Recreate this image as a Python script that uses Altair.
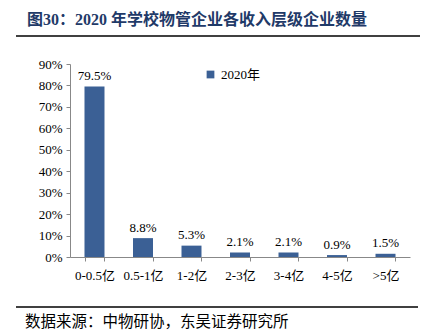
import altair as alt
import pandas as pd

categories = ["0-0.5亿", "0.5-1亿", "1-2亿", "2-3亿", "3-4亿", "4-5亿", ">5亿"]
values = [79.5, 8.8, 5.3, 2.1, 2.1, 0.9, 1.5]
series = "2020年"
y_ticks = [0, 10, 20, 30, 40, 50, 60, 70, 80, 90]
title_text = "图30：2020 年学校物管企业各收入层级企业数量"
source_text = "数据来源：中物研协，东吴证券研究所"

df = pd.DataFrame({"cat": categories, "val": [v / 100 for v in values], "s": series,
                   "lbl": [f"{v:.1f}%" for v in values]})

SERIF = "'Liberation Serif', 'Times New Roman', 'Noto Sans CJK SC', serif"
BAR = "#3B6095"

x = alt.X("cat:N", sort=categories, title=None,
          scale=alt.Scale(paddingInner=0.59, paddingOuter=0.3),
          axis=alt.Axis(labelAngle=0, tickBand="extent", labelPadding=8))
y = alt.Y("val:Q", title=None,
          scale=alt.Scale(domain=[0, 0.9], nice=False),
          axis=alt.Axis(values=[t / 100 for t in y_ticks], format=".0%", grid=False,
                        labelPadding=4))

base = alt.Chart(df).encode(x=x, y=y)

bars = base.mark_bar(size=20).encode(
    color=alt.Color("s:N", scale=alt.Scale(range=[BAR]), title=None,
                    legend=alt.Legend(orient="none", legendX=134, legendY=4,
                                      symbolType="square", symbolSize=60,
                                      labelFont=SERIF, labelFontSize=13, labelColor="#000",
                                      symbolStrokeWidth=0)))

labels = base.mark_text(dy=-10.5, font=SERIF, fontSize=13, color="#000").encode(text="lbl:N")

deco = pd.DataFrame({"t": [title_text]})
title = alt.Chart(deco).mark_text(align="left", baseline="middle", font=SERIF, fontSize=16,
                                  fontWeight="bold", color="#1F3A68", clip=False).encode(
    x=alt.value(-43), y=alt.value(-44), text="t:N")
src = alt.Chart(pd.DataFrame({"t": [source_text]})).mark_text(
    align="left", baseline="middle", font="'Noto Sans CJK SC'", fontSize=15.5, color="#000",
    clip=False).encode(
    x=alt.value(-45), y=alt.value(258), text="t:N")
line1 = alt.Chart(deco).mark_rule(color="#000", strokeWidth=1.5, clip=False).encode(
    x=alt.value(-54), x2=alt.value(350), y=alt.value(-28))
line2 = alt.Chart(deco).mark_rule(color="#000", strokeWidth=1.5, clip=False).encode(
    x=alt.value(-54), x2=alt.value(348), y=alt.value(243))

chart = alt.layer(bars, labels, title, src, line1, line2).properties(
    width=340, height=193,
    autosize=alt.AutoSizeParams(type="none"),
    padding={"left": 70, "top": 64, "right": 18, "bottom": 73},
).configure_view(stroke=None).configure_axis(
    labelFont=SERIF, labelFontSize=13, labelColor="#000", domainColor="#888",
    tickColor="#888", tickSize=4, labelOverlap=False, grid=False
)

chart.save("out.html", embed_options={"renderer": "svg", "actions": False})
